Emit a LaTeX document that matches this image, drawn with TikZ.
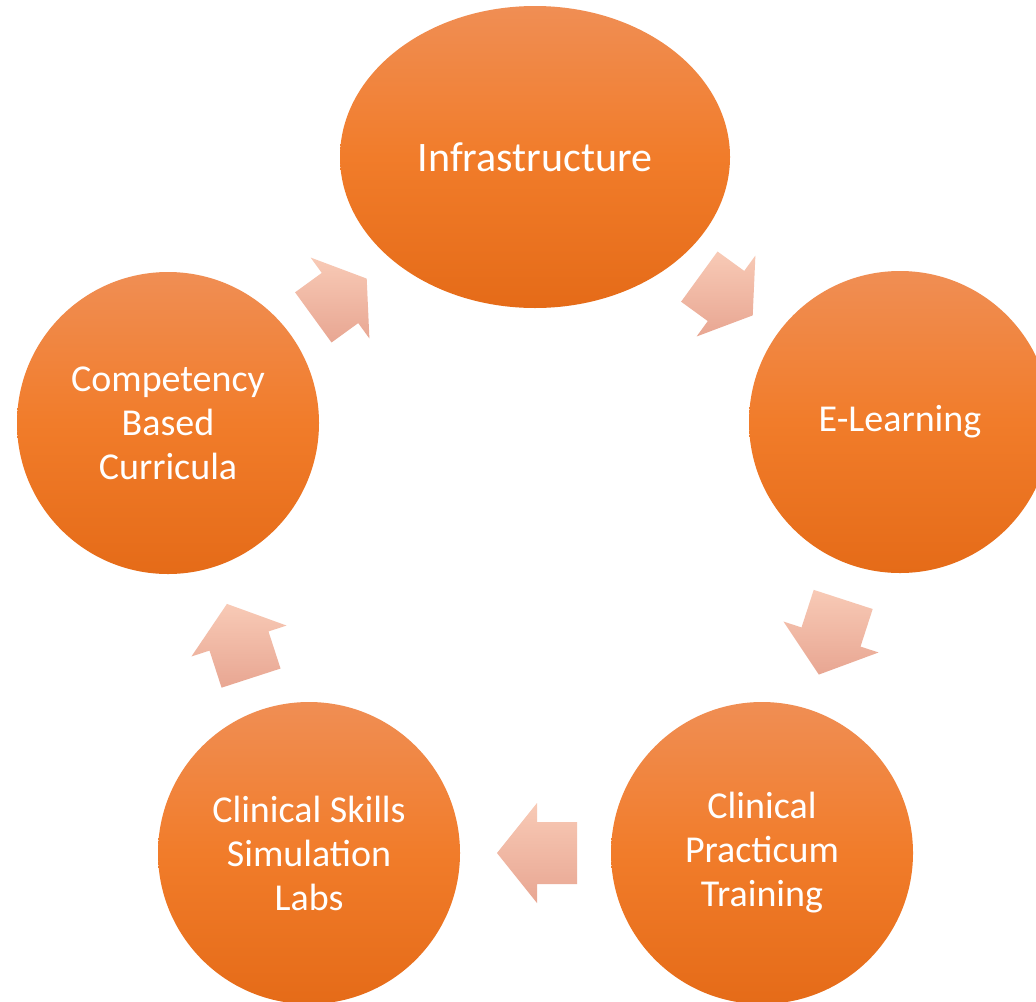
\documentclass[tikz,border=0pt]{standalone}
\usepackage{fontspec}
\setmainfont{Carlito}
\usetikzlibrary{shapes.geometric}
\definecolor{circtop}{RGB}{240,142,84}
\definecolor{circmid}{RGB}{241,124,42}
\definecolor{circbot}{RGB}{229,107,24}
\definecolor{arrtop}{RGB}{248,202,182}
\definecolor{arrbot}{RGB}{232,166,146}
\tikzset{
  stage/.style={circle, minimum size=151pt, inner sep=0pt,
    top color=circtop, bottom color=circbot, middle color=circmid,
    text=white, align=center, font=\fontsize{19}{22}\selectfont},
  bigstage/.style={stage, ellipse, minimum width=195pt, minimum height=151pt,
    font=\fontsize{21}{24}\selectfont}
}
\newcommand\cyclearrow[3]{%
  \begin{scope}[shift={#1}, rotate=#2]
    \shade[top color=arrtop, bottom color=arrbot]
      (-#3/2,-31) -- (0,-31) -- (0,-50) -- (#3/2,0) -- (0,50) -- (0,31) -- (-#3/2,31) -- cycle;
  \end{scope}}
\begin{document}
\begin{tikzpicture}[x=0.5pt, y=-0.5pt]
  \useasboundingbox (0,0) rectangle (1036,1001);
  \clip (0,0) rectangle (1036,1001);
  \fill[white] (0,0) rectangle (1036,1001);
  \node[bigstage] (infra) at (535,157) {Infrastructure};
  \node[stage] (elearn) at (900,422) {E-Learning};
  \node[stage] (practicum) at (762,853) {Clinical\\Practicum\\Training};
  \node[stage] (skills) at (309,853) {Clinical Skills\\Simulation\\Labs};
  \node[stage] (competency) at (168,423) {Competency\\Based\\Curricula};
  \cyclearrow{(726,296)}{-36}{66}
  \cyclearrow{(831,637)}{-108}{79}
  \cyclearrow{(537,853)}{180}{80}
  \cyclearrow{(239,641)}{108}{78}
  \cyclearrow{(340,298)}{36}{66}
\end{tikzpicture}
\end{document}
